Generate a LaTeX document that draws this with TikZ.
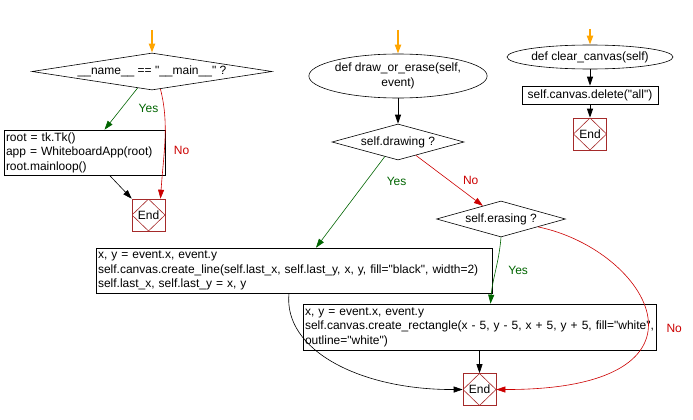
\documentclass[tikz,border=0pt]{standalone}
\usepackage{fontspec}
\setmainfont{Liberation Sans}[Ligatures=TeXOff]
\usetikzlibrary{arrows.meta,positioning,shapes.geometric,calc}
\definecolor{startorange}{RGB}{255,165,0}
\definecolor{yesgreen}{RGB}{0,100,0}
\definecolor{nored}{RGB}{204,0,0}
\definecolor{endred}{RGB}{165,42,42}
\tikzset{
  decision/.style={diamond,draw,inner sep=0pt},
  proc/.style={rectangle,draw,align=left,inner sep=2pt},
  func/.style={ellipse,draw,inner sep=0pt,align=center},
  endbox/.style={rectangle,draw=endred,minimum width=33pt,minimum height=32pt,inner sep=0pt,
    path picture={\draw[endred] (path picture bounding box.north) -- (path picture bounding box.east)
      -- (path picture bounding box.south) -- (path picture bounding box.west) -- cycle;}},
  entry/.style={startorange,line width=2pt},
  yes/.style={yesgreen},
  no/.style={nored},
}

\begin{document}
\begin{tikzpicture}[x=1pt,y=1pt,->,>={Triangle[length=9pt,width=6pt]},line width=0.6pt,
  font=\fontsize{12}{14.5}\selectfont]
  \useasboundingbox (0,0) rectangle (693,-420);
  % main block
  \coordinate (mainin) at (152,-30);
  \node[decision,shape aspect=6.5,minimum width=240pt,minimum height=37pt] (main) at (152,-71.5) {\_\_name\_\_ == "\_\_main\_\_" ?};
  \node[proc,text width=157pt,minimum height=45pt] (mainbody) at (84.5,-152.5)
    {root = tk.Tk()\\app = WhiteboardApp(root)\\root.mainloop()};
  \node[endbox] (mainend) at (148.5,-215) {End};
  \draw[entry] (mainin) -- (main.north);
  \draw[yes] ($(main.south)!0.12!(main.west)$) -- node[pos=.5,right=14pt]{Yes} ($(mainbody.north)+(20,0)$);
  \draw[no] ($(main.south)!0.07!(main.east)$) .. controls +(9,-35) and +(3,45) .. node[pos=.6,right=6pt]{No} ($(mainend.north)+(12,0)$);
  \draw ($(mainbody.south)+(25,0)$) -- (mainend.north west);
  % draw_or_erase
  \coordinate (drawin) at (398,-30);
  \node[func,minimum width=151pt,minimum height=44pt] (draw) at (398,-76) {def draw\_or\_erase(self,\\event)};
  \node[decision,shape aspect=3.6,minimum width=132pt,minimum height=36pt] (drawing) at (398,-142) {self.drawing ?};
  \node[decision,shape aspect=3.6,minimum width=129pt,minimum height=36pt] (erasing) at (501,-219) {self.erasing ?};
  \node[proc,text width=392pt,minimum height=45pt] (line) at (294,-270.5)
    {x, y = event.x, event.y\\self.canvas.create\_line(self.last\_x, self.last\_y, x, y, fill="black", width=2)\\self.last\_x, self.last\_y = x, y};
  \node[proc,text width=349pt,minimum height=46pt] (rect) at (479.5,-327)
    {x, y = event.x, event.y\\self.canvas.create\_rectangle(x - 5, y - 5, x + 5, y + 5, fill="white",\\outline="white")};
  \node[endbox] (drawend) at (479.5,-389.5) {End};
  \draw[entry] (drawin) -- (draw.north);
  \draw[thick] (draw.south) -- (drawing.north);
  \draw[yes] ($(drawing.south)!0.2!(drawing.west)$) -- node[pos=.27,right=17pt]{Yes} ($(line.north)+(22,0)$);
  \draw[no] ($(drawing.south)!0.27!(drawing.east)$) -- node[pos=.5,right=10pt]{No} ($(erasing.north)!0.28!(erasing.west)$);
  \draw[yes] (erasing.south) .. controls +(-2,-25) and +(2,25) .. node[pos=.5,right=9pt]{Yes} ($(rect.north)+(11,0)$);
  \draw[no] ($(erasing.south)!0.57!(erasing.east)$) .. controls (650,-250) and (730,-390) .. node[pos=.55,right=16pt]{No} (drawend.east);
  \draw ($(line.south)+(-5,0)$) .. controls (283,-350) and (360,-390) .. (drawend.west);
  \draw (rect.south) -- (drawend.north);
  % clear_canvas
  \coordinate (clearin) at (590,-29);
  \node[func,minimum width=137pt,minimum height=24pt] (clear) at (590,-57) {def clear\_canvas(self)};
  \node[proc,minimum width=136pt,minimum height=18pt,inner sep=1pt] (delete) at (590,-95) {self.canvas.delete("all")};
  \node[endbox] (clearend) at (590,-134) {End};
  \draw[entry] (clearin) -- (clear.north);
  \draw[thick] (clear.south) -- (delete.north);
  \draw[thick] (delete.south) -- (clearend.north);
\end{tikzpicture}
\end{document}
